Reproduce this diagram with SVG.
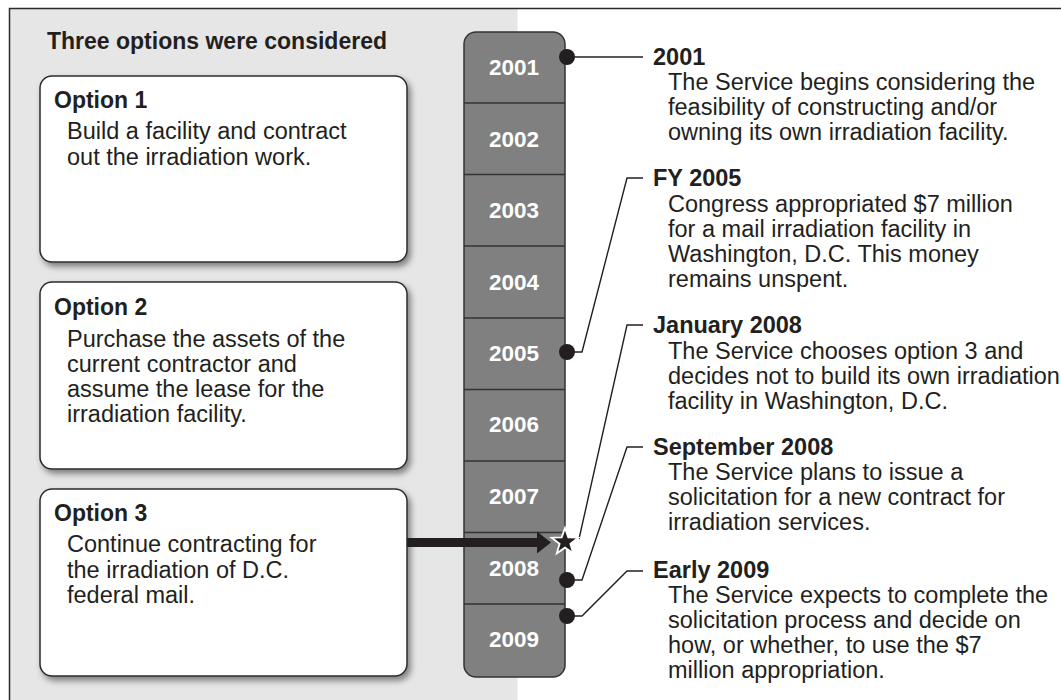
<svg xmlns="http://www.w3.org/2000/svg" width="1061" height="700" viewBox="0 0 1061 700">
<style>
text{font-family:"Liberation Sans",Arial,Helvetica,sans-serif;fill:#231f20}
.title{font-size:23px;font-weight:bold}
.hd{font-size:23px;font-weight:bold}
.rh{font-size:23.5px;font-weight:bold}
.bd{font-size:23.5px}
.yr{font-size:22.5px;font-weight:bold;fill:#fff;text-anchor:middle}
.box{fill:#fff;stroke:#2b2b2b;stroke-width:1.5}
.seg{stroke:#333;stroke-width:1.5}
.con{fill:none;stroke:#231f20;stroke-width:1.4}
.dot{fill:#231f20}
</style>
<defs>
<filter id="sh" x="-10%" y="-10%" width="130%" height="130%">
<feDropShadow dx="3" dy="4" stdDeviation="3" flood-color="#000" flood-opacity="0.45"/>
</filter>
</defs>
<rect x="0" y="0" width="1061" height="700" fill="#fff"/>
<rect x="9.5" y="8.5" width="508" height="700" fill="#e6e6e6"/>
<rect x="9.5" y="8.5" width="1060" height="700" fill="none" stroke="#2b2b2b" stroke-width="1.5"/>
<text class="title" x="47" y="49">Three options were considered</text>

<g id="option1">
<rect class="box" x="40" y="76" width="367" height="186" rx="12" filter="url(#sh)"/>
<text class="hd" x="54" y="108">Option 1</text>
<text class="bd" x="67" y="139">Build a facility and contract</text>
<text class="bd" x="67" y="165">out the irradiation work.</text>
</g>
<g id="option2">
<rect class="box" x="40" y="282" width="367" height="187" rx="12" filter="url(#sh)"/>
<text class="hd" x="54" y="315">Option 2</text>
<text class="bd" x="67" y="347">Purchase the assets of the</text>
<text class="bd" x="67" y="372">current contractor and</text>
<text class="bd" x="67" y="397">assume the lease for the</text>
<text class="bd" x="67" y="422">irradiation facility.</text>
</g>
<g id="option3">
<rect class="box" x="40" y="489" width="367" height="187" rx="12" filter="url(#sh)"/>
<text class="hd" x="54" y="521">Option 3</text>
<text class="bd" x="67" y="552">Continue contracting for</text>
<text class="bd" x="67" y="578">the irradiation of D.C.</text>
<text class="bd" x="67" y="603">federal mail.</text>
</g>

<g id="timeline">
<rect x="464" y="32" width="101" height="645" rx="12" fill="#808080" stroke="#333" stroke-width="1.5"/>
<line class="seg" x1="464" y1="103" x2="565" y2="103"/>
<line class="seg" x1="464" y1="174.5" x2="565" y2="174.5"/>
<line class="seg" x1="464" y1="246" x2="565" y2="246"/>
<line class="seg" x1="464" y1="318" x2="565" y2="318"/>
<line class="seg" x1="464" y1="389.5" x2="565" y2="389.5"/>
<line class="seg" x1="464" y1="461" x2="565" y2="461"/>
<line class="seg" x1="464" y1="532.5" x2="565" y2="532.5"/>
<line class="seg" x1="464" y1="604" x2="565" y2="604"/>
<text class="yr" x="514" y="75">2001</text>
<text class="yr" x="514" y="147">2002</text>
<text class="yr" x="514" y="218">2003</text>
<text class="yr" x="514" y="290">2004</text>
<text class="yr" x="514" y="361">2005</text>
<text class="yr" x="514" y="432">2006</text>
<text class="yr" x="514" y="504">2007</text>
<text class="yr" x="514" y="576">2008</text>
<text class="yr" x="514" y="647">2009</text>
</g>

<g id="connectors">
<polyline class="con" points="567,57 643,57"/>
<polyline class="con" points="567,352 582,352 627,178 643,178"/>
<polyline class="con" points="579,539 627,325 643,325"/>
<polyline class="con" points="567,580 582,580 627,447 643,447"/>
<polyline class="con" points="567,616 582,616 627,571 643,571"/>
<circle class="dot" cx="567" cy="57" r="8"/>
<circle class="dot" cx="567" cy="352" r="8"/>
<circle class="dot" cx="567" cy="580" r="8"/>
<circle class="dot" cx="567" cy="616" r="8"/>
<line x1="407" y1="542.5" x2="539" y2="542.5" stroke="#231f20" stroke-width="9"/>
<polygon points="537,531.5 551,542.5 537,553.5" fill="#231f20"/>
<polygon points="565,528 568.3,537.4 578.3,537.7 570.4,543.8 573.2,553.3 565,547.7 556.8,553.3 559.6,543.8 551.7,537.7 561.7,537.4" fill="#231f20" stroke="#fff" stroke-width="1.8" stroke-linejoin="miter"/>
</g>

<g id="event2001">
<text class="rh" x="653" y="65">2001</text>
<text class="bd" x="668" y="90">The Service begins considering the</text>
<text class="bd" x="668" y="115">feasibility of constructing and/or</text>
<text class="bd" x="668" y="140">owning its own irradiation facility.</text>
</g>
<g id="eventFY2005">
<text class="rh" x="653" y="186">FY 2005</text>
<text class="bd" x="668" y="212">Congress appropriated $7 million</text>
<text class="bd" x="668" y="237">for a mail irradiation facility in</text>
<text class="bd" x="668" y="262">Washington, D.C. This money</text>
<text class="bd" x="668" y="287">remains unspent.</text>
</g>
<g id="eventJan2008">
<text class="rh" x="653" y="333">January 2008</text>
<text class="bd" x="668" y="359">The Service chooses option 3 and</text>
<text class="bd" x="668" y="384">decides not to build its own irradiation</text>
<text class="bd" x="668" y="409">facility in Washington, D.C.</text>
</g>
<g id="eventSep2008">
<text class="rh" x="653" y="455">September 2008</text>
<text class="bd" x="668" y="480">The Service plans to issue a</text>
<text class="bd" x="668" y="505">solicitation for a new contract for</text>
<text class="bd" x="668" y="530">irradiation services.</text>
</g>
<g id="eventEarly2009">
<text class="rh" x="653" y="578">Early 2009</text>
<text class="bd" x="668" y="603">The Service expects to complete the</text>
<text class="bd" x="668" y="628">solicitation process and decide on</text>
<text class="bd" x="668" y="653">how, or whether, to use the $7</text>
<text class="bd" x="668" y="678">million appropriation.</text>
</g>
</svg>
